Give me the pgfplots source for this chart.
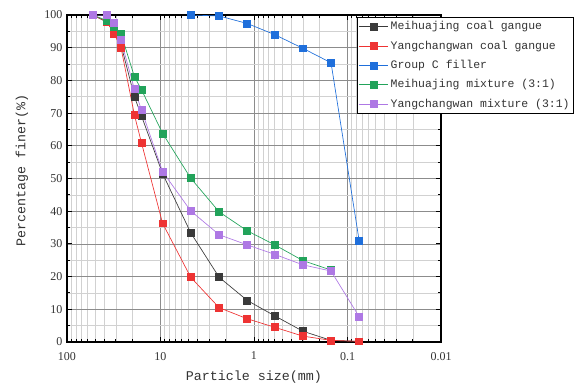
\documentclass[border=0pt]{standalone}
\usepackage{fontspec}
\setmainfont{Liberation Serif}
\newfontfamily\monofont{Liberation Mono}
\usepackage{pgfplots}
\pgfplotsset{compat=1.18}
\definecolor{cblack}{HTML}{3A3A3A}
\definecolor{cred}{HTML}{EE3333}
\definecolor{cblue}{HTML}{1F6FDB}
\definecolor{cgreen}{HTML}{22A35A}
\definecolor{cpurple}{HTML}{AE78E4}
\begin{document}
\begin{tikzpicture}
\useasboundingbox (-50.25pt,-33.75pt) rectangle (384pt,256.5pt);
\begin{axis}[
  at={(0pt,0pt)}, anchor=south west,
  scale only axis, width=280.5pt, height=245.25pt,
  xmode=log, x dir=reverse, xmin=0.01, xmax=100, ymin=0, ymax=100,
  log ticks with fixed point,
  ytick={0,10,...,100}, minor y tick num=1,
  grid=both,
  major grid style={draw=black!45, line width=0.5pt},
  minor grid style={draw=black!18, line width=0.5pt},
  tick align=inside, major tick length=4pt, minor tick length=2.5pt,
  axis line style={line width=1pt},
  every tick/.style={black, line width=0.7pt},
  ticklabel style={font=\fontsize{9}{10}\selectfont, text=black!80},
  xticklabel style={yshift=-4pt},
  /pgf/number format/assume math mode=true,
  xlabel={\monofont Particle size(mm)},
  ylabel={\monofont Percentage finer(\%)},
  label style={font=\fontsize{10}{12}\selectfont, text=black!80},
  xlabel style={at={(axis description cs:0.5,0)}, anchor=center, yshift=-26.25pt},
  ylabel style={at={(axis description cs:-0.1203,0.523)}, anchor=center, rotate=0},
  legend style={at={(0.775,0.994)}, anchor=north west, draw=black, line width=0.6pt,
    fill=white, font=\monofont\fontsize{8.6}{10}\selectfont, text=black!80,
    inner xsep=1pt, inner ysep=1.5pt, row sep=3.6pt,
    nodes={inner sep=1.6pt}},
  legend cell align=left,
  legend image code/.code={\draw[mark repeat=2,mark phase=2,#1] plot coordinates {(0pt,0pt) (11pt,0pt) (22pt,0pt)};},
  every axis plot/.append style={line width=0.5pt, mark=square*, mark size=2.6pt},
]
\addplot[color=cblack, mark options={fill=cblack, draw=cblack}] coordinates {
(53,100) (37.5,97.8) (31.5,94.8) (26.5,91.0) (19,75.0) (16,69.2) (9.5,51.5)
(4.75,33.4) (2.36,19.8) (1.18,12.7) (0.6,8.0) (0.3,3.3) (0.15,0.5) (0.075,0.2)};
\addlegendentry{Meihuajing coal gangue}
\addplot[color=cred, mark options={fill=cred, draw=cred}] coordinates {
(53,100) (37.5,98.0) (31.5,94.3) (26.5,90.1) (19,69.4) (16,61.0) (9.5,36.3)
(4.75,19.8) (2.36,10.5) (1.18,7.1) (0.6,4.5) (0.3,1.8) (0.15,0.5) (0.075,0.2)};
\addlegendentry{Yangchangwan coal gangue}
\addplot[color=cblue, mark options={fill=cblue, draw=cblue}] coordinates {
(4.75,100) (2.36,99.7) (1.18,97.4) (0.6,94.0) (0.3,89.8) (0.15,85.4) (0.075,30.9)};
\addlegendentry{Group C filler}
\addplot[color=cgreen, mark options={fill=cgreen, draw=cgreen}] coordinates {
(53,100) (37.5,98.3) (31.5,96.3) (26.5,94.4) (19,81.1) (16,77.2) (9.5,63.8)
(4.75,50.1) (2.36,39.8) (1.18,34.0) (0.6,29.7) (0.3,24.9) (0.15,22.0)};
\addlegendentry{Meihuajing mixture (3:1)}
\addplot[color=cpurple, mark options={fill=cpurple, draw=cpurple}] coordinates {
(53,100) (37.5,100) (31.5,97.6) (26.5,92.4) (19,77.3) (16,71.0) (9.5,52.1)
(4.75,40.1) (2.36,32.8) (1.18,29.7) (0.6,26.8) (0.3,23.6) (0.15,21.7) (0.075,7.7)};
\addlegendentry{Yangchangwan mixture (3:1)}
\end{axis}
\end{tikzpicture}
\end{document}
